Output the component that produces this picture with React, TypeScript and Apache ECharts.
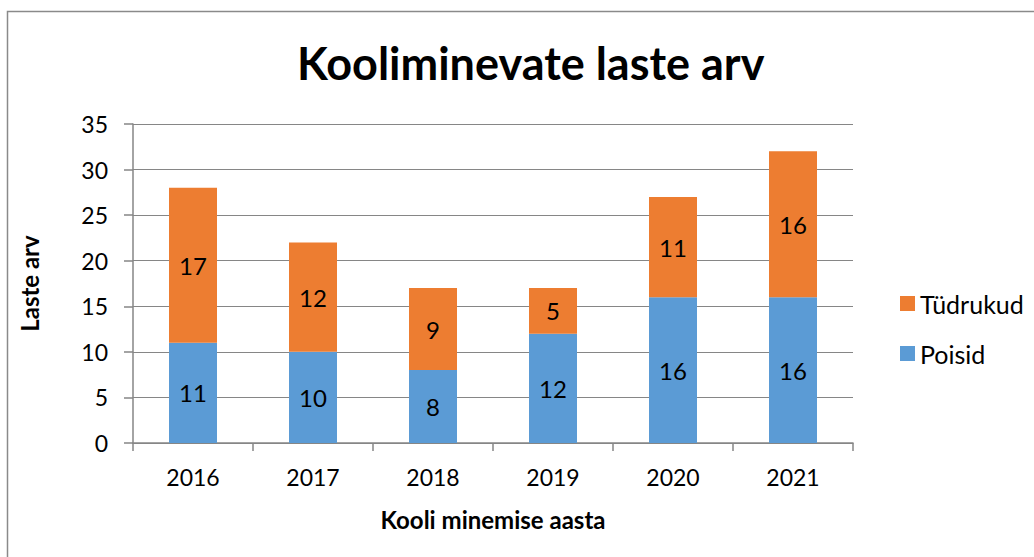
import React, { useEffect, useRef } from "react";
import * as echarts from "echarts";

const categories = ["2016", "2017", "2018", "2019", "2020", "2021"];
const poisid = [11, 10, 8, 12, 16, 16];
const tudrukud = [17, 12, 9, 5, 11, 16];
const titleText = "Koolimine vate laste arv".replace(" vate", "vate");

const FONT = "Lato, 'Open Sans', sans-serif";

export default function App() {
  const ref = useRef<HTMLDivElement>(null);
  useEffect(() => {
    document.body.style.margin = "0";
    const chart = echarts.init(ref.current!, null, { renderer: "svg" });
    chart.setOption({
      animation: false,
      backgroundColor: "#ffffff",
      textStyle: { fontFamily: FONT },
      title: {
        text: titleText,
        left: 292,
        top: 35,
        textStyle: { fontFamily: FONT, fontWeight: "bold", fontSize: 45, color: "#000" },
      },
      graphic: [
        {
          type: "rect",
          shape: { x: 7.5, y: 11.5, width: 1100, height: 700 },
          style: { fill: "none", stroke: "#8a8a8a", lineWidth: 1.5 },
          silent: true,
        },
      ],
      legend: {
        orient: "vertical",
        left: 895,
        top: 286,
        itemWidth: 15,
        itemHeight: 15,
        itemGap: 25,
        icon: "rect",
        data: ["Tüdrukud", "Poisid"],
        textStyle: { fontFamily: FONT, fontSize: 25, color: "#000" },
      },
      grid: { left: 133, right: 181, top: 124, bottom: 114 },
      xAxis: {
        type: "category",
        data: categories,
        name: "Kooli minemise aasta",
        nameLocation: "middle",
        nameGap: 64,
        nameTextStyle: { fontFamily: FONT, fontWeight: "bold", fontSize: 24, color: "#000" },
        axisLine: { lineStyle: { color: "#868686", width: 1.5 } },
        axisTick: { show: true, length: 8, lineStyle: { color: "#868686", width: 1.5 } },
        axisLabel: { fontFamily: FONT, fontSize: 23, color: "#000", margin: 22 },
      },
      yAxis: {
        type: "value",
        min: 0,
        max: 35,
        interval: 5,
        name: "Laste arv",
        nameLocation: "middle",
        nameGap: 92,
        nameRotate: 90,
        nameTextStyle: { fontFamily: FONT, fontWeight: "bold", fontSize: 24, color: "#000" },
        axisLine: { show: true, lineStyle: { color: "#868686", width: 1.5 } },
        axisTick: { show: true, length: 9, lineStyle: { color: "#868686", width: 1.5 } },
        axisLabel: { fontFamily: FONT, fontSize: 23, color: "#000", margin: 25 },
        splitLine: { lineStyle: { color: "#868686", width: 1 } },
      },
      series: [
        {
          name: "Poisid",
          type: "bar",
          stack: "total",
          data: poisid,
          barWidth: "40%",
          itemStyle: { color: "#5B9BD5" },
          label: { show: true, position: "inside", fontFamily: FONT, fontSize: 24, color: "#000" },
        },
        {
          name: "Tüdrukud",
          type: "bar",
          stack: "total",
          data: tudrukud,
          barWidth: "40%",
          itemStyle: { color: "#ED7D31" },
          label: { show: true, position: "inside", fontFamily: FONT, fontSize: 24, color: "#000" },
        },
      ],
    });
    return () => chart.dispose();
  }, []);
  return (
    <div
      ref={ref}
      style={{ position: "fixed", left: 0, top: 0, width: 1034, height: 557 }}
    />
  );
}
